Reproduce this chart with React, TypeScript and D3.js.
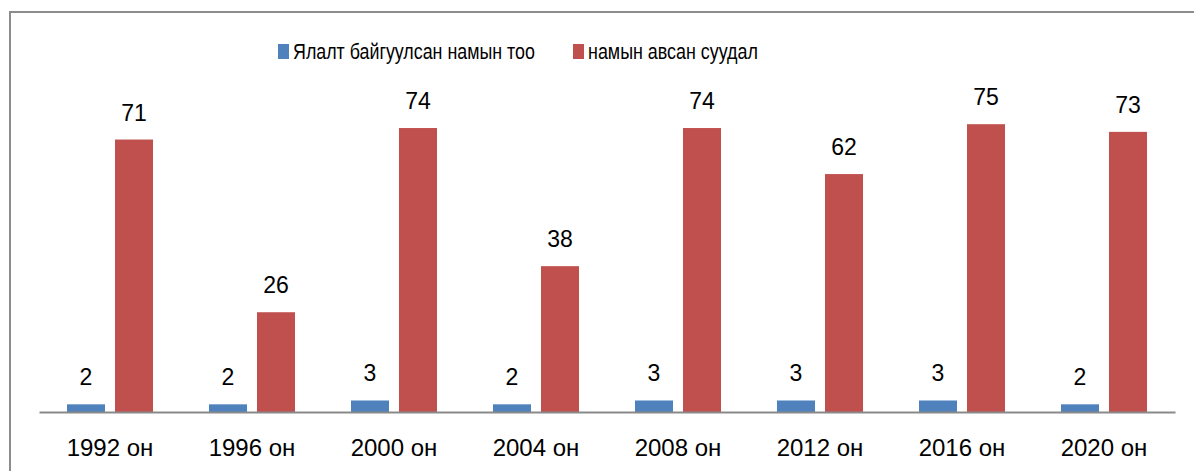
import { useEffect, useRef } from "react";
import * as d3 from "d3";

const categories = ["1992 он", "1996 он", "2000 он", "2004 он", "2008 он", "2012 он", "2016 он", "2020 он"];
const seriesNames = ["Ялалт байгуулсан намын тоо", "намын авсан суудал"];
const wins = [2, 2, 3, 2, 3, 3, 3, 2];
const seats = [71, 26, 74, 38, 74, 62, 75, 73];
const colors = ["#4F81BD", "#C0504D"];

export default function App() {
  const svgRef = useRef<SVGSVGElement | null>(null);

  useEffect(() => {
    if (!svgRef.current) return;
    const width = 1194;
    const height = 471;
    const font = "'Liberation Sans', Arial, sans-serif";

    const svg = d3.select(svgRef.current);
    svg.selectAll("*").remove();
    svg.attr("width", width).attr("height", height);

    // chart frame (runs off the right and bottom edge)
    svg.append("rect")
      .attr("x", 10).attr("y", 12)
      .attr("width", 1300).attr("height", 600)
      .attr("fill", "#fff")
      .attr("stroke", "#8c8c8c")
      .attr("stroke-width", 2);

    const x0 = d3.scaleBand<string>().domain(categories).range([39, 1175]);
    const x1 = d3.scaleBand<number>().domain([0, 1]).range([0, x0.bandwidth()]).paddingInner(0.208).paddingOuter(0.583);
    const y = d3.scaleLinear().domain([0, 80]).range([412, 105]);

    const series = [wins, seats];

    series.forEach((vals, si) => {
      svg.append("g")
        .selectAll("rect")
        .data(vals)
        .enter()
        .append("rect")
        .attr("x", (_, i) => x0(categories[i])! + x1(si)!)
        .attr("y", d => y(d))
        .attr("width", x1.bandwidth())
        .attr("height", d => y(0) - y(d))
        .attr("fill", colors[si]);

      svg.append("g")
        .selectAll("text")
        .data(vals)
        .enter()
        .append("text")
        .attr("x", (_, i) => x0(categories[i])! + x1(si)! + x1.bandwidth() / 2)
        .attr("y", d => y(d) - 19)
        .attr("text-anchor", "middle")
        .attr("font-family", font)
        .attr("font-size", 23)
        .attr("fill", "#000")
        .text(d => String(d));
    });

    // category axis
    const axis = svg.append("g").attr("transform", `translate(0,${y(0)})`);
    axis.call(d3.axisBottom(x0).tickSize(0).tickPadding(27));
    axis.select(".domain").attr("stroke", "#898989").attr("stroke-width", 2);
    axis.selectAll("text")
      .attr("font-family", font)
      .attr("font-size", 24)
      .attr("fill", "#000");

    // legend: Excel's narrow legend font, squeezed horizontally to its width
    const legendX = [278, 573];
    const legendW = [242, 170];
    const legend = svg.append("g");
    seriesNames.forEach((name, i) => {
      legend.append("rect")
        .attr("x", legendX[i]).attr("y", 44)
        .attr("width", 11).attr("height", 15)
        .attr("fill", colors[i]);
      const t = legend.append("text")
        .attr("font-family", font)
        .attr("font-size", 22)
        .attr("fill", "#000")
        .text(name);
      const natural = (t.node() as SVGTextElement).getComputedTextLength() || legendW[i];
      t.attr("transform", `translate(${legendX[i] + 15},59) scale(${legendW[i] / natural},1)`);
    });
  }, []);

  return <svg ref={svgRef} style={{ position: "absolute", left: 0, top: 0 }} />;
}
